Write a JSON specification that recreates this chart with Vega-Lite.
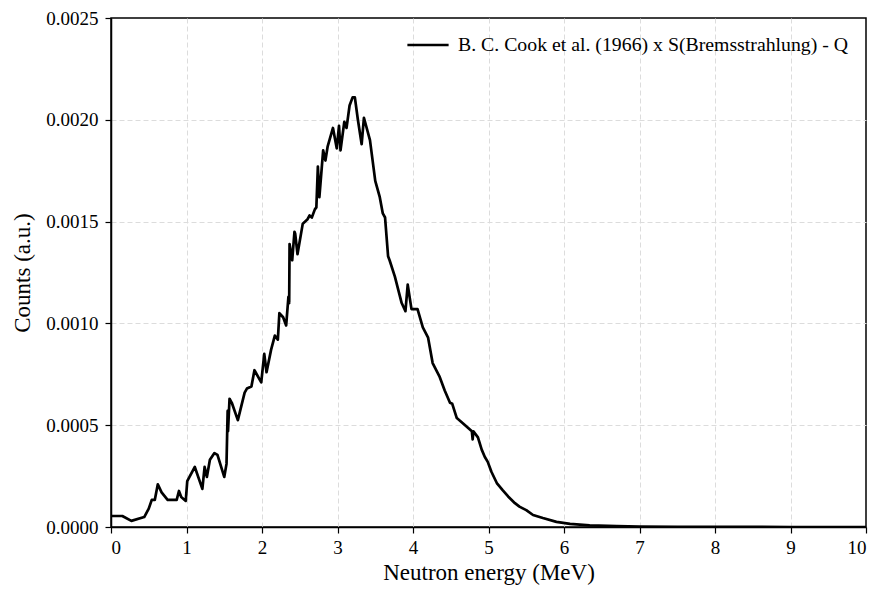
{
  "$schema": "https://vega.github.io/schema/vega-lite/v6.json",
  "autosize": {"type": "none"},
  "padding": {"left": 111, "top": 18, "right": 9, "bottom": 63},
  "width": 755,
  "height": 509,
  "background": "white",
  "config": {
    "font": "Liberation Serif",
    "view": {"stroke": "black", "strokeWidth": 1.5},
    "axis": {
      "labelFont": "Liberation Serif",
      "titleFont": "Liberation Serif",
      "labelFontSize": 19,
      "titleFontSize": 23,
      "titleFontWeight": "normal",
      "labelColor": "black",
      "titleColor": "black",
      "domainColor": "black",
      "domainWidth": 1.5,
      "tickColor": "black",
      "tickWidth": 1.2,
      "tickSize": 6,
      "gridDash": [5, 3],
      "gridWidth": 1
    },
    "legend": {
      "labelFont": "Liberation Serif",
      "labelFontSize": 19.8,
      "labelColor": "black",
      "labelLimit": 0
    }
  },
  "data": {
    "values": [
      {"x": 0.0, "y": 0.000054},
      {"x": 0.15, "y": 0.000054},
      {"x": 0.27, "y": 0.000030},
      {"x": 0.44, "y": 0.000049},
      {"x": 0.50, "y": 0.000090},
      {"x": 0.54, "y": 0.000133},
      {"x": 0.58, "y": 0.000133},
      {"x": 0.62, "y": 0.000210},
      {"x": 0.67, "y": 0.000170},
      {"x": 0.75, "y": 0.000133},
      {"x": 0.87, "y": 0.000133},
      {"x": 0.90, "y": 0.000177},
      {"x": 0.93, "y": 0.000147},
      {"x": 0.99, "y": 0.000128},
      {"x": 1.01, "y": 0.000225},
      {"x": 1.11, "y": 0.000295},
      {"x": 1.21, "y": 0.000187},
      {"x": 1.24, "y": 0.000295},
      {"x": 1.27, "y": 0.000246},
      {"x": 1.31, "y": 0.000330},
      {"x": 1.37, "y": 0.000363},
      {"x": 1.41, "y": 0.000354},
      {"x": 1.50, "y": 0.000246},
      {"x": 1.53, "y": 0.000310},
      {"x": 1.545, "y": 0.000570},
      {"x": 1.55, "y": 0.000470},
      {"x": 1.57, "y": 0.000630},
      {"x": 1.60, "y": 0.000610},
      {"x": 1.68, "y": 0.000525},
      {"x": 1.77, "y": 0.000660},
      {"x": 1.80, "y": 0.000680},
      {"x": 1.86, "y": 0.000690},
      {"x": 1.90, "y": 0.000770},
      {"x": 1.99, "y": 0.000710},
      {"x": 2.03, "y": 0.000850},
      {"x": 2.06, "y": 0.000760},
      {"x": 2.12, "y": 0.000870},
      {"x": 2.17, "y": 0.000940},
      {"x": 2.21, "y": 0.000920},
      {"x": 2.23, "y": 0.001050},
      {"x": 2.28, "y": 0.001030},
      {"x": 2.32, "y": 0.000990},
      {"x": 2.35, "y": 0.001130},
      {"x": 2.36, "y": 0.001100},
      {"x": 2.365, "y": 0.001390},
      {"x": 2.40, "y": 0.001310},
      {"x": 2.43, "y": 0.001450},
      {"x": 2.44, "y": 0.001440},
      {"x": 2.47, "y": 0.001340},
      {"x": 2.54, "y": 0.001490},
      {"x": 2.60, "y": 0.001510},
      {"x": 2.63, "y": 0.001530},
      {"x": 2.66, "y": 0.001520},
      {"x": 2.70, "y": 0.001560},
      {"x": 2.72, "y": 0.001570},
      {"x": 2.74, "y": 0.001770},
      {"x": 2.76, "y": 0.001620},
      {"x": 2.81, "y": 0.001850},
      {"x": 2.84, "y": 0.001800},
      {"x": 2.87, "y": 0.001870},
      {"x": 2.94, "y": 0.001960},
      {"x": 2.99, "y": 0.001860},
      {"x": 3.02, "y": 0.001970},
      {"x": 3.04, "y": 0.001850},
      {"x": 3.09, "y": 0.001990},
      {"x": 3.12, "y": 0.001960},
      {"x": 3.16, "y": 0.002070},
      {"x": 3.20, "y": 0.002110},
      {"x": 3.23, "y": 0.002110},
      {"x": 3.27, "y": 0.002000},
      {"x": 3.32, "y": 0.001880},
      {"x": 3.35, "y": 0.002010},
      {"x": 3.43, "y": 0.001900},
      {"x": 3.50, "y": 0.001700},
      {"x": 3.56, "y": 0.001620},
      {"x": 3.60, "y": 0.001540},
      {"x": 3.63, "y": 0.001520},
      {"x": 3.67, "y": 0.001330},
      {"x": 3.69, "y": 0.001310},
      {"x": 3.76, "y": 0.001230},
      {"x": 3.85, "y": 0.001100},
      {"x": 3.90, "y": 0.001060},
      {"x": 3.93, "y": 0.001190},
      {"x": 3.98, "y": 0.001070},
      {"x": 4.06, "y": 0.001070},
      {"x": 4.13, "y": 0.000980},
      {"x": 4.20, "y": 0.000930},
      {"x": 4.26, "y": 0.000805},
      {"x": 4.35, "y": 0.000740},
      {"x": 4.42, "y": 0.000670},
      {"x": 4.49, "y": 0.000610},
      {"x": 4.52, "y": 0.000605},
      {"x": 4.58, "y": 0.000535},
      {"x": 4.66, "y": 0.000510},
      {"x": 4.72, "y": 0.000490},
      {"x": 4.78, "y": 0.000470},
      {"x": 4.79, "y": 0.000430},
      {"x": 4.80, "y": 0.000470},
      {"x": 4.86, "y": 0.000440},
      {"x": 4.91, "y": 0.000380},
      {"x": 4.95, "y": 0.000345},
      {"x": 4.99, "y": 0.000320},
      {"x": 5.04, "y": 0.000270},
      {"x": 5.11, "y": 0.000216},
      {"x": 5.19, "y": 0.000180},
      {"x": 5.26, "y": 0.000150},
      {"x": 5.35, "y": 0.000117},
      {"x": 5.41, "y": 0.000100},
      {"x": 5.50, "y": 0.000083},
      {"x": 5.59, "y": 0.000059},
      {"x": 5.72, "y": 0.000044},
      {"x": 5.90, "y": 0.000025},
      {"x": 6.08, "y": 0.000015},
      {"x": 6.34, "y": 0.000008},
      {"x": 6.70, "y": 0.000005},
      {"x": 7.0, "y": 0.000002},
      {"x": 7.5, "y": 0.000001},
      {"x": 8.0, "y": 0.0000005},
      {"x": 9.0, "y": 0.0000001},
      {"x": 10.0, "y": 0.0}
    ]
  },
  "mark": {"type": "line", "strokeWidth": 2.7, "strokeJoin": "round", "clip": true},
  "encoding": {
    "x": {
      "field": "x",
      "type": "quantitative",
      "scale": {"domain": [0, 10], "nice": false, "zero": false},
      "axis": {
        "title": "Neutron energy (MeV)",
        "values": [0,1,2,3,4,5,6,7,8,9,10],
        "format": "d",
        "labelFont": "Liberation Serif",
        "labelFontSize": 19,
        "labelPadding": 5,
        "titlePadding": 4,
        "titleFont": "Liberation Serif",
        "gridColor": {"condition": {"test": "datum.value <= 0 || datum.value >= 10", "value": "transparent"}, "value": "#dcdcdc"}
      }
    },
    "y": {
      "field": "y",
      "type": "quantitative",
      "scale": {"domain": [0, 0.0025], "nice": false},
      "axis": {
        "title": "Counts (a.u.)",
        "values": [0, 0.0005, 0.001, 0.0015, 0.002, 0.0025],
        "format": ".4f",
        "labelFont": "Liberation Serif",
        "labelFontSize": 19,
        "labelPadding": 7,
        "titlePadding": 11,
        "titleFont": "Liberation Serif",
        "gridColor": {"condition": {"test": "datum.value <= 0 || datum.value >= 0.0025", "value": "transparent"}, "value": "#dcdcdc"}
      }
    },
    "color": {
      "datum": "B. C. Cook et al. (1966) x S(Bremsstrahlung) - Q",
      "type": "nominal",
      "scale": {"range": ["black"]},
      "legend": {
        "title": null,
        "orient": "none",
        "legendX": 289,
        "legendY": -1,
        "symbolType": "stroke",
        "symbolSize": 1700,
        "symbolStrokeWidth": 2.5,
        "labelOffset": 8,
        "padding": 6
      }
    }
  }
}
